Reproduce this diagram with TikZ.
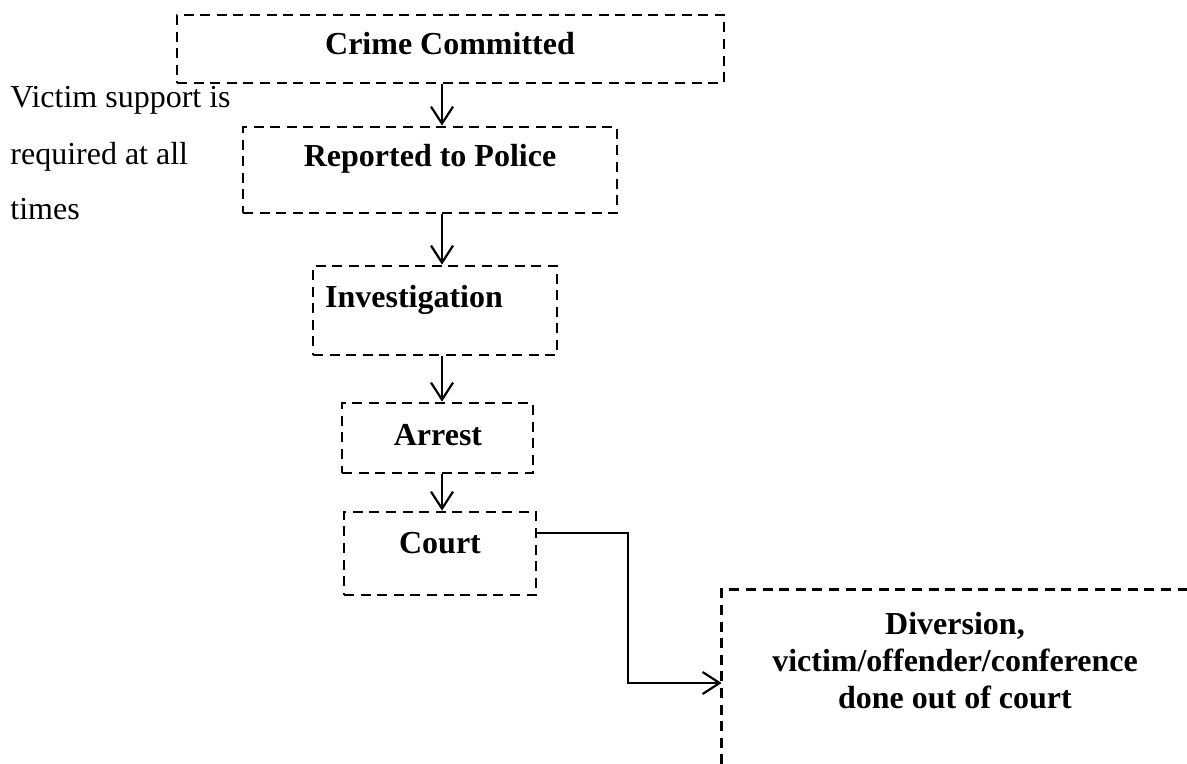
\documentclass[tikz,border=0pt]{standalone}
\usepackage{fontspec}
\setmainfont{Liberation Serif}
\usetikzlibrary{arrows.meta}
\begin{document}
\begin{tikzpicture}[x=0.5pt,y=-0.5pt,
  box/.style={draw, dash pattern=on 5pt off 3.3pt, line width=1.35pt, rectangle, inner sep=0pt},
  lbl/.style={font=\fontsize{16}{18.5}\selectfont\bfseries, inner sep=0pt, anchor=base},
  plain/.style={font=\fontsize{16}{19}\selectfont, inner sep=0pt, anchor=base west},
  conn/.style={line width=1.1pt, -{Straight Barb[length=8.5pt,width=11pt,line width=1.1pt]}}
]
\useasboundingbox (0,0) rectangle (1187,764);
% boxes
\node[box, minimum width=273.5pt, minimum height=34pt] (crime) at (450.5,49) {};
\node[box, minimum width=187pt, minimum height=43pt] (rep) at (430,170) {};
\node[box, minimum width=122pt, minimum height=44.5pt] (inv) at (435,310.5) {};
\node[box, minimum width=95.5pt, minimum height=35pt] (arr) at (437.5,438) {};
\node[box, minimum width=96pt, minimum height=41.5pt] (court) at (440,553.5) {};
\node[inner sep=0pt, minimum width=232.5pt, minimum height=87pt] (div) at (954.5,677) {};
\draw[box] (div.south west) |- (div.north east);
% labels
\node[lbl] (tcrime) at (450,55) {Crime Committed};
\node[lbl] (trep) at (430,167) {Reported to Police};
\node[lbl] (tinv) at (414,307) {Investigation};
\node[lbl] (tarr) at (438,445) {Arrest};
\node[lbl] (tcourt) at (440,553) {Court};
\node[lbl, align=center, anchor=center] (tdiv) at (955,661) {Diversion,\\victim/offender/conference\\done out of court};
% side text
\node[plain] (v1) at (10,108) {Victim support is};
\node[plain] (v2) at (10,165) {required at all};
\node[plain] (v3) at (10,220) {times};
% connectors
\coordinate (ax) at (442,0);
\coordinate (cy) at (0,533);
\coordinate (dy) at (0,683);
\draw[conn] (ax |- crime.south) -- (ax |- rep.north);
\draw[conn] (ax |- rep.south) -- (ax |- inv.north);
\draw[conn] (ax |- inv.south) -- (ax |- arr.north);
\draw[conn] (ax |- arr.south) -- (ax |- court.north);
\draw[conn] (court.east |- cy) -| (628,683) -- (div.west |- dy);
\end{tikzpicture}
\end{document}
